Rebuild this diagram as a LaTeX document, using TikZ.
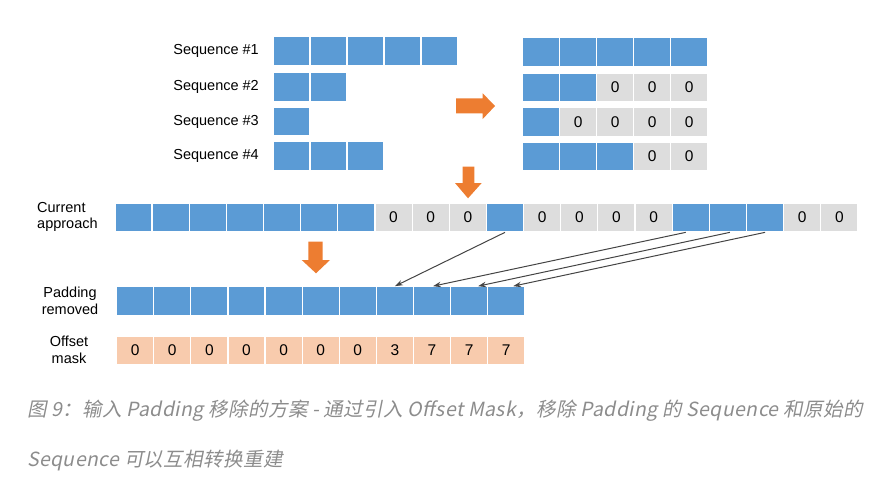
\documentclass[tikz,border=0pt]{standalone}
\usepackage{fontspec}
\setmainfont{Liberation Sans}
\newfontfamily\capfont[FakeSlant=0.2,LetterSpace=2]{Noto Sans CJK SC}
\usetikzlibrary{calc,arrows.meta}
\definecolor{cblue}{HTML}{5B9BD5}
\definecolor{cgray}{HTML}{DDDDDD}
\definecolor{cpeach}{HTML}{F8CBAD}
\definecolor{corange}{HTML}{ED7D31}
\definecolor{carrow}{HTML}{444444}
\definecolor{ccap}{HTML}{8C8C8C}
\begin{document}
\begin{tikzpicture}[x=1pt,y=-1pt,
  cell/.style={minimum width=37pt,minimum height=28.5pt,inner sep=0pt,draw=white,line width=1.2pt,font=\fontsize{15.5}{17}\selectfont,anchor=center},
  bc/.style={cell,fill=cblue},
  gc/.style={cell,fill=cgray},
  pc/.style={cell,fill=cpeach},
  lbl/.style={font=\fontsize{14.5}{16.5}\selectfont,inner sep=0pt},
  conn/.style={draw=carrow,line width=1pt,-{Stealth[length=8pt,width=5.5pt]}},
  barrow/.style={fill=corange,draw=none},
  captext/.style={anchor=west,inner sep=0pt,text=ccap,font=\capfont\fontsize{19.5}{22}\selectfont}]
\useasboundingbox (0,0) rectangle (874,484);

% ---- top-left sequences
\node[lbl,anchor=east] (l1) at (259,51) {Sequence \#1};
\node[lbl,anchor=east] (l2) at (259,87) {Sequence \#2};
\node[lbl,anchor=east] (l3) at (259,121.5) {Sequence \#3};
\node[lbl,anchor=east] (l4) at (259,156) {Sequence \#4};
\foreach \i in {0,...,4} \node[bc] (sa\i) at (291.5+37*\i,51) {};
\foreach \i in {0,1} \node[bc] (sb\i) at (291.5+37*\i,87) {};
\node[bc] (sc0) at (291.5,121.5) {};
\foreach \i in {0,1,2} \node[bc] (sd\i) at (291.5+37*\i,156) {};

% ---- top-right padded sequences
\foreach \s/\v [count=\i from 0] in {bc/{},bc/{},bc/{},bc/{},bc/{}}
  \node[\s] (ta\i) at (541.2+37*\i,52) {\v};
\foreach \s/\v [count=\i from 0] in {bc/{},bc/{},gc/0,gc/0,gc/0}
  \node[\s] (tb\i) at (541.2+37*\i,87.5) {\v};
\foreach \s/\v [count=\i from 0] in {bc/{},gc/0,gc/0,gc/0,gc/0}
  \node[\s] (tc\i) at (541.2+37*\i,122) {\v};
\foreach \s/\v [count=\i from 0] in {bc/{},bc/{},bc/{},gc/0,gc/0}
  \node[\s] (td\i) at (541.2+37*\i,156.5) {\v};

% ---- current approach
\node[lbl,anchor=west,align=left] (lcur) at (37,217) {Current\\approach};
\foreach \s/\v [count=\i from 0] in {bc/{},bc/{},bc/{},bc/{},bc/{},bc/{},bc/{},gc/0,gc/0,gc/0,bc/{},gc/0,gc/0,gc/0,gc/0,bc/{},bc/{},bc/{},gc/0,gc/0}
  \node[\s,minimum width=37.15pt] (c\i) at (133.5+37.15*\i,217.5) {\v};

% ---- padding removed
\node[lbl,align=center] (lpad) at (70,301) {Padding\\removed};
\foreach \i in {0,...,10} \node[bc,minimum width=37.1pt] (p\i) at (135.2+37.1*\i,301) {};

% ---- offset mask
\node[lbl,align=center] (loff) at (69,350) {Offset\\mask};
\foreach \v [count=\i from 0] in {0,0,0,0,0,0,0,3,7,7,7}
  \node[pc,minimum width=37.1pt] (m\i) at (135.2+37.1*\i,350.5) {\v};

% ---- orange block arrows
\fill[barrow] (456,98.3) -- (482.7,98.3) -- (482.7,93.3) -- (495,106) -- (482.7,119) -- (482.7,113.3) -- (456,113.3) -- cycle;
\fill[barrow] (462.7,166.7) -- (474.3,166.7) -- (474.3,183) -- (481.7,183) -- (468,198.3) -- (455,183) -- (462.7,183) -- cycle;
\fill[barrow] (308.3,241.7) -- (322.7,241.7) -- (322.7,260) -- (330,260) -- (316,273.3) -- (301.7,260) -- (308.3,260) -- cycle;

% ---- gray connectors
\draw[conn] (c10.south) -- (p7.north);
\draw[conn] ([xshift=-5pt]c15.south) -- ([xshift=1pt]p8.north);
\draw[conn] ([xshift=2pt]c16.south) -- ([xshift=9pt]p9.north);
\draw[conn] (c17.south) -- ([xshift=7pt]p10.north);

% ---- caption
\node[captext] (cap1) at (27,411) {图 9：输入 Padding 移除的方案 - 通过引入 Offset Mask，移除 Padding 的 Sequence 和原始的};
\node[captext] (cap2) at (27,461) {Sequence 可以互相转换重建};
\end{tikzpicture}
\end{document}
